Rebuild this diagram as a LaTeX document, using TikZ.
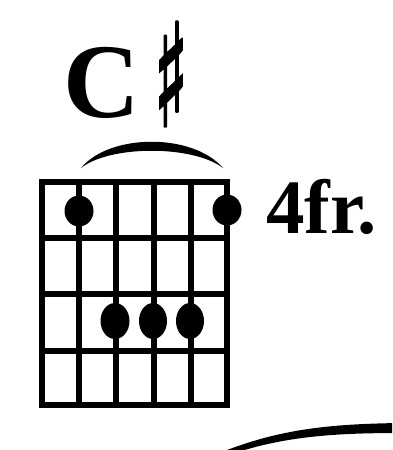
\documentclass[tikz,border=0pt]{standalone}
\usepackage{fontspec}
\setmainfont{Liberation Serif}
\newfontfamily\sharpfont[FakeBold=2.5]{DejaVu Serif}
\begin{document}
\begin{tikzpicture}[x=1pt,y=-1pt,
  gridline/.style={line width=5.5pt,line cap=rect},
  fingerdot/.style={fill=black,draw=none}]
\useasboundingbox (0,0) rectangle (392,450);
\clip (0,0) rectangle (392,450);
% chord name
\node[inner sep=0,anchor=base] (cname) at (102,117) {\fontsize{106}{106}\selectfont\bfseries C};
\node[inner sep=0,xscale=0.7,yscale=1.42] (sharp) at (171,74) {\fontsize{100}{100}\selectfont\sharpfont ♯};
% fret label
\node[inner sep=0,anchor=base west] (fret) at (266,233) {\fontsize{77}{77}\selectfont\bfseries 4fr.};
% barre arc
\fill (81,168) .. controls (110,133) and (193,133) .. (223,168)
      .. controls (193,145) and (110,145) .. cycle;
% grid
\foreach \x in {42,79,116,154,191,227}
  \draw[gridline] (\x,182) -- (\x,405);
\foreach \y in {182,238,294,351,405}
  \draw[gridline] (42,\y) -- (227,\y);
% dots
\fill[fingerdot] (79,211) ellipse (14.5 and 15.5);
\fill[fingerdot] (227,210) ellipse (14.5 and 15.5);
\fill[fingerdot] (115,321) ellipse (14.5 and 18);
\fill[fingerdot] (153,321) ellipse (14 and 18);
\fill[fingerdot] (190,321) ellipse (14 and 18);
% bottom curve
\fill (222,452) .. controls (280,429) and (330,424) .. (400,423)
      -- (400,433) .. controls (330,433) and (280,437) .. (226,456) -- cycle;
\end{tikzpicture}
\end{document}
